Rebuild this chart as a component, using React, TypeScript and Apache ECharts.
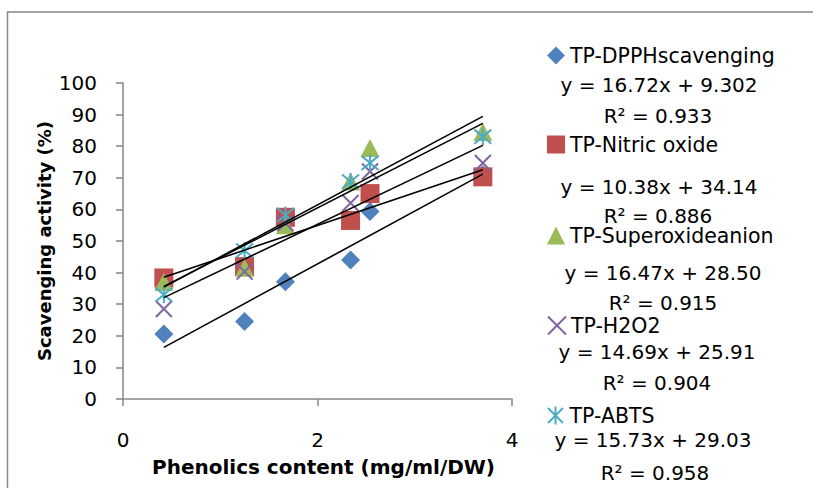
import React, { useEffect, useRef } from 'react';
import * as echarts from 'echarts';

const xValues = [0.42, 1.25, 1.67, 2.34, 2.54, 3.7];
const seriesNames = ['TP-DPPHscavenging', 'TP-Nitric oxide', 'TP-Superoxideanion', 'TP-H2O2', 'TP-ABTS'];
const dpph = [20.6, 24.5, 37.1, 44.0, 59.3, 71.0];
const nitric = [38.3, 41.9, 57.5, 56.5, 65.0, 70.3];
const superoxide = [37.0, 41.5, 55.0, 68.8, 79.4, 84.5];
const h2o2 = [28.5, 40.3, 55.7, 62.0, 72.0, 74.7];
const abts = [33.0, 47.0, 58.2, 68.8, 74.7, 83.0];
const slopes = [16.72, 10.38, 16.47, 14.69, 15.73];
const intercepts = [9.302, 34.14, 28.5, 25.91, 29.03];
const equations = ['y = 16.72x + 9.302', 'y = 10.38x + 34.14', 'y = 16.47x + 28.50', 'y = 14.69x + 25.91', 'y = 15.73x + 29.03'];
const rSquared = ['R² = 0.933', 'R² = 0.886', 'R² = 0.915', 'R² = 0.904', 'R² = 0.958'];
const colors = ['#4F81BD', '#C0504D', '#9BBB59', '#8064A2', '#4BACC6'];

const X_PATH = 'path://M0,0L10,10M10,0L0,10';
const STAR_PATH = 'path://M0,0L10,10M10,0L0,10M5,-1L5,11';
const symbols = ['diamond', 'rect', 'triangle', X_PATH, STAR_PATH];
const symbolSizes: any[] = [[19, 19], [19, 19], [19, 18], [16, 16], [17, 17]];

// layout positions (pixels)
const legendTops = [45, 134, 225, 315, 405];
const eqPos = [[659, 85], [659, 187], [663, 273], [657, 352], [653, 440]];
const r2Pos = [[658, 116], [658, 216], [663, 303], [657, 383], [655, 473]];

const FONT = '"DejaVu Sans", sans-serif';

export default function App() {
  const ref = useRef<HTMLDivElement>(null);
  useEffect(() => {
    document.body.style.margin = '0';
    const chart = echarts.init(ref.current!, null, { renderer: 'svg' });
    const dataSets = [dpph, nitric, superoxide, h2o2, abts];
    const xMin = Math.min(...xValues);
    const xMax = Math.max(...xValues);
    const scatter = dataSets.map((d, i) => ({
      type: 'scatter',
      name: seriesNames[i],
      data: xValues.map((x, j) => [x, d[j]]),
      symbol: symbols[i],
      symbolSize: symbolSizes[i],
      itemStyle: i >= 3
        ? { color: colors[i], borderColor: colors[i], borderWidth: 2, opacity: 1 }
        : { color: colors[i], opacity: 1 },
      z: 2,
    }));
    const trends = slopes.map((s, i) => ({
      type: 'line',
      name: 'trend' + i,
      data: [[xMin, s * xMin + intercepts[i]], [xMax, s * xMax + intercepts[i]]],
      symbol: 'none',
      lineStyle: { color: '#000', width: 1.6 },
      z: 3,
      silent: true,
    }));
    const legends = seriesNames.map((n, i) => ({
      data: [n],
      left: 547,
      top: legendTops[i],
      orient: 'vertical',
      itemWidth: 18,
      itemHeight: 18,
      itemGap: 0,
      padding: 0,
      selectedMode: false,
      textStyle: { fontSize: 20.5, color: '#000', fontFamily: FONT },
    }));
    const graphics: any[] = [
      {
        type: 'rect',
        shape: { x: 7.5, y: 12, width: 900, height: 600 },
        style: { fill: 'none', stroke: '#878787', lineWidth: 1.5 },
        silent: true,
      },
    ];
    equations.forEach((e, i) => {
      graphics.push({
        type: 'text', x: eqPos[i][0], y: eqPos[i][1],
        style: { text: e, fontSize: 20, fill: '#000', fontFamily: FONT, textAlign: 'center', textVerticalAlign: 'middle' },
      });
      graphics.push({
        type: 'text', x: r2Pos[i][0], y: r2Pos[i][1],
        style: { text: rSquared[i], fontSize: 20, fill: '#000', fontFamily: FONT, textAlign: 'center', textVerticalAlign: 'middle' },
      });
    });
    chart.setOption({
      animation: false,
      backgroundColor: '#fff',
      grid: { left: 123, top: 83, right: 301, bottom: 89, containLabel: false },
      xAxis: {
        type: 'value', min: 0, max: 4, interval: 2,
        name: 'Phenolics content (mg/ml/DW)', nameLocation: 'middle', nameGap: 58,
        nameTextStyle: { fontSize: 20, fontWeight: 'bold', color: '#000', fontFamily: FONT, padding: [0, 0, 0, 12] },
        axisLine: { lineStyle: { color: '#868686', width: 1.5 } },
        axisTick: { show: true, length: 7, lineStyle: { color: '#868686', width: 1.5 } },
        axisLabel: { fontSize: 20, color: '#000', margin: 31, fontFamily: FONT },
        splitLine: { show: false },
      },
      yAxis: {
        type: 'value', min: 0, max: 100, interval: 10,
        name: 'Scavenging activity (%)', nameLocation: 'middle', nameGap: 70, nameRotate: 90,
        nameTextStyle: { fontSize: 18, fontWeight: 'bold', color: '#000', fontFamily: FONT },
        axisLine: { show: true, lineStyle: { color: '#868686', width: 1.5 } },
        axisTick: { show: true, length: 7, lineStyle: { color: '#868686', width: 1.5 } },
        axisLabel: { fontSize: 20, color: '#000', margin: 26, fontFamily: FONT },
        splitLine: { show: false },
      },
      legend: legends,
      graphic: graphics,
      series: [...scatter, ...trends],
    } as any);
    return () => chart.dispose();
  }, []);
  return <div ref={ref} style={{ width: 813, height: 488 }} />;
}
